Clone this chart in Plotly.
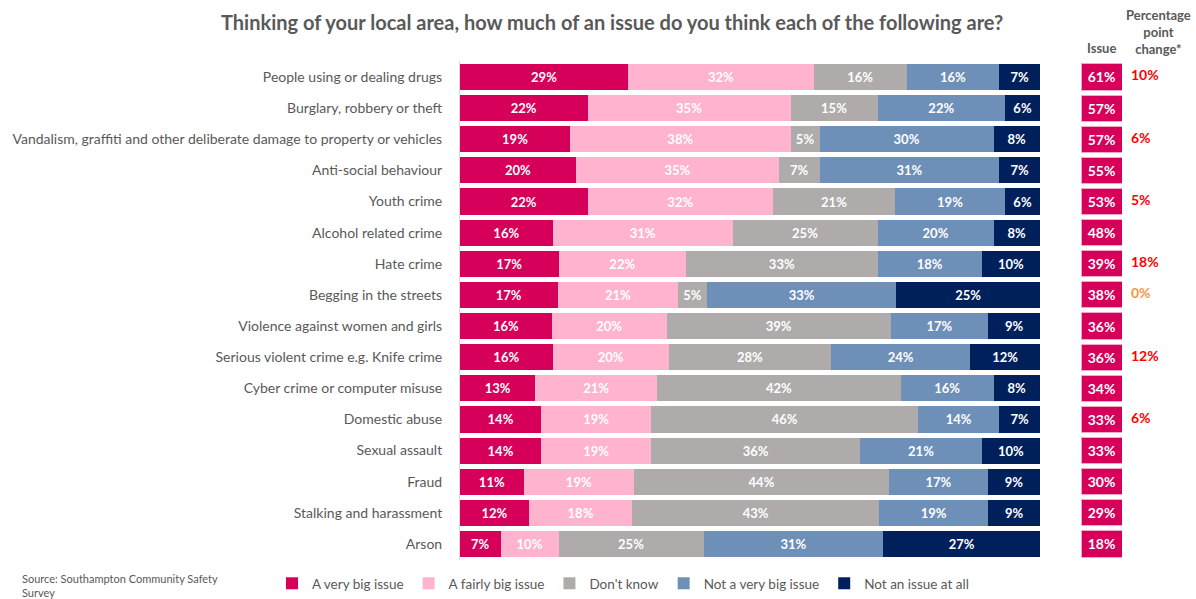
import plotly.graph_objects as go

# Survey items, listed top to bottom
categories = [
    "People using or dealing drugs",
    "Burglary, robbery or theft",
    "Vandalism, graffiti and other deliberate damage to property or vehicles",
    "Anti-social behaviour",
    "Youth crime",
    "Alcohol related crime",
    "Hate crime",
    "Begging in the streets",
    "Violence against women and girls",
    "Serious violent crime e.g. Knife crime",
    "Cyber crime or computer misuse",
    "Domestic abuse",
    "Sexual assault",
    "Fraud",
    "Stalking and harassment",
    "Arson",
]

very_big = [29, 22, 19, 20, 22, 16, 17, 17, 16, 16, 13, 14, 14, 11, 12, 7]
fairly_big = [32, 35, 38, 35, 32, 31, 22, 21, 20, 20, 21, 19, 19, 19, 18, 10]
dont_know = [16, 15, 5, 7, 21, 25, 33, 5, 39, 28, 42, 46, 36, 44, 43, 25]
not_very_big = [16, 22, 30, 31, 19, 20, 18, 33, 17, 24, 16, 14, 21, 17, 19, 31]
not_at_all = [7, 6, 8, 7, 6, 8, 10, 25, 9, 12, 8, 7, 10, 9, 9, 27]

# Net "issue" share (very big + fairly big, as published)
issue = [61, 57, 57, 55, 53, 48, 39, 38, 36, 36, 34, 33, 33, 30, 29, 18]
# Percentage point change since previous survey (None = not reported)
pp_change = [10, None, 6, None, 5, None, 18, 0, None, 12, None, 6, None, None, None, None]

series_names = ["A very big issue", "A fairly big issue", "Don't know",
                "Not a very big issue", "Not an issue at all"]
series_values = [very_big, fairly_big, dont_know, not_very_big, not_at_all]
series_colors = ["#D6005A", "#FFB3CE", "#AFABAB", "#6E8FB8", "#00205B"]

FONT = "Lato, 'Open Sans', sans-serif"
W, H = 1196, 599

# Layout geometry in pixels
x0_px, x1_px = 460, 1040
row_top_px, row_bot_px = 61.5, 560.5
ydom = [1 - row_bot_px / H, 1 - row_top_px / H]

fig = go.Figure()

for name, vals, col in zip(series_names, series_values, series_colors):
    fig.add_trace(go.Bar(
        y=categories, x=vals, name=name, orientation="h",
        marker=dict(color=col, line=dict(width=0)),
        text=[f"{v}%" for v in vals], textposition="inside",
        insidetextanchor="middle", textangle=0,
        textfont=dict(family=FONT, size=13, color="white", weight="bold"),
        hoverinfo="skip", xaxis="x", yaxis="y",
    ))

# Issue column: full-width boxes (normalised to 100) carrying the net value
fig.add_trace(go.Bar(
    y=categories, x=[100] * len(categories), orientation="h",
    marker=dict(color="#D6005A", line=dict(width=1, color="#F4A6C4")),
    text=[f"{v}%" for v in issue], textposition="inside",
    insidetextanchor="middle", textangle=0,
    textfont=dict(family=FONT, size=14, color="white", weight="bold"),
    showlegend=False, hoverinfo="skip", xaxis="x2", yaxis="y2",
))

# Percentage point change column
chg_y = [c for c, v in zip(categories, pp_change) if v is not None]
chg_vals = [v for v in pp_change if v is not None]
fig.add_trace(go.Scatter(
    y=chg_y, x=[0] * len(chg_y), mode="text",
    text=[f"{v}%" for v in chg_vals], textposition="middle right",
    textfont=dict(family=FONT, size=14, weight="bold",
                  color=["#F79646" if v == 0 else "#FF0000" for v in chg_vals]),
    showlegend=False, hoverinfo="skip", xaxis="x3", yaxis="y2",
))

yaxis_common = dict(
    type="category", categoryorder="array", categoryarray=categories,
    range=[len(categories) - 0.5, -0.5], domain=ydom, fixedrange=True,
)

fig.update_layout(
    width=W, height=H,
    margin=dict(l=0, r=0, t=0, b=0),
    paper_bgcolor="white", plot_bgcolor="white",
    barmode="stack", barnorm="percent", bargap=0.16,
    font=dict(family=FONT, color="#595959"),
    xaxis=dict(domain=[x0_px / W, x1_px / W], range=[0, 100],
               showticklabels=False, showgrid=False, zeroline=False),
    yaxis=dict(**yaxis_common, showline=True, linecolor="#D9D9D9", linewidth=1,
               ticks="", ticklabelstandoff=14,
               tickfont=dict(family=FONT, size=14, color="#595959")),
    xaxis2=dict(domain=[1081 / W, 1122 / W], range=[0, 100],
                showticklabels=False, showgrid=False, zeroline=False),
    yaxis2=dict(**yaxis_common, anchor="x2", overlaying="y",
                showticklabels=False, showgrid=False, showline=False),
    xaxis3=dict(domain=[1131 / W, 1196 / W], range=[0, 1], anchor="y2",
                showticklabels=False, showgrid=False, zeroline=False),
    legend=dict(orientation="h", x=272 / W, xanchor="left", y=1 - 584 / H,
                yanchor="middle", traceorder="normal",
                font=dict(family=FONT, size=13.5, color="#595959"),
                itemwidth=30, tracegroupgap=0),
    annotations=[
        dict(text="<b>Thinking of your local area, how much of an issue do you think each of the following are?</b>",
             x=612 / W, y=1 - 22 / H, xref="paper", yref="paper", showarrow=False,
             xanchor="center", yanchor="middle",
             font=dict(family=FONT, size=20, color="#595959")),
        dict(text="<b>Issue</b>", x=1101 / W, y=1 - 48 / H, xref="paper", yref="paper",
             showarrow=False, xanchor="center", yanchor="middle",
             font=dict(family=FONT, size=13, color="#595959")),
        dict(text="<b>Percentage<br>point<br>change*</b>", x=1158 / W, y=1 - 32 / H,
             xref="paper", yref="paper", showarrow=False, xanchor="center",
             yanchor="middle", align="center",
             font=dict(family=FONT, size=13, color="#595959")),
        dict(text="Source: Southampton Community Safety<br>Survey", x=20 / W, y=1 - 586 / H,
             xref="paper", yref="paper", showarrow=False, xanchor="left",
             yanchor="middle", align="left",
             font=dict(family=FONT, size=11, color="#595959")),
    ],
)

fig.write_html("out.html")
